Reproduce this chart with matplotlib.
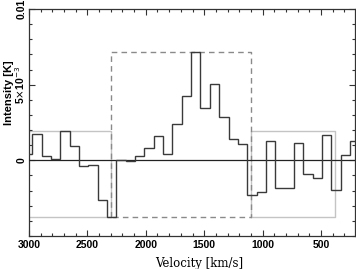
import numpy as np
import matplotlib
matplotlib.use("Agg")
import matplotlib.pyplot as plt
from matplotlib.ticker import MultipleLocator

# spectrum: bin edges (km/s, descending) and intensities (K)
edges = 3052 - 80 * np.arange(37)
intens = np.array([0.42, 1.73, 0.29, 0.07, 1.93, 0.95, -0.40, -0.31, -2.59, -3.72,
                   0.00, -0.06, 0.29, 0.80, 1.59, 0.40, 2.43, 4.25, 7.17, 3.45,
                   5.07, 2.86, 1.39, 1.06, -2.26, -2.06, 1.30, -1.86, -1.86, 1.13,
                   -0.93, -1.15, 1.66, -1.99, 0.33, 1.26]) * 1e-3

# baseline windows (grey) and line window (dashed)
base_left = [3060, 2300]
base_right = [1100, 380]
line_win = [2300, 1100]
box_lo = -3.72e-3
base_hi = 1.93e-3
line_hi = 7.17e-3

fig = plt.figure(figsize=(3.56, 2.69), dpi=100)
ax = fig.add_axes([29/356, 33/269, 326/356, 227/269])

for x0, x1 in (base_left, base_right):
    ax.plot([x0, x0, x1, x1, x0], [box_lo, base_hi, base_hi, box_lo, box_lo],
            color="#c4c4c4", lw=1.0, zorder=1)
x0, x1 = line_win
ax.plot([x0, x0, x1, x1, x0], [box_lo, line_hi, line_hi, box_lo, box_lo],
        color="#8a8a8a", lw=1.0, ls=(0, (4, 3)), zorder=2)

ax.axhline(0, color="#222222", lw=0.9, zorder=3)
ax.stairs(intens[::-1], edges[::-1], baseline=None, color="#3a3a3a", lw=1.0, zorder=4)

ax.set_xlim(3000, 209)
ax.set_ylim(-0.005, 0.01)

ax.xaxis.set_major_locator(MultipleLocator(500))
ax.xaxis.set_minor_locator(MultipleLocator(100))
ax.set_yticks([0, 0.005, 0.01])
ax.set_yticklabels(["0", r"5$\times$10$^{-3}$", "0.01"], rotation=90, va="center")
ax.yaxis.set_minor_locator(MultipleLocator(0.001))

ax.tick_params(which="both", direction="in", top=True, right=True, color="#333333")
ax.tick_params(which="major", length=4, width=0.8, pad=3)
ax.tick_params(axis="y", which="major", pad=1.5)
ax.tick_params(which="minor", length=2, width=0.8)
for lab in ax.get_xticklabels() + ax.get_yticklabels():
    lab.set_fontfamily("Liberation Sans")
    lab.set_fontweight("bold")
    lab.set_fontsize(7.5)

for s in ax.spines.values():
    s.set_color("#333333")
    s.set_linewidth(0.9)

ax.set_xlabel("Velocity [km/s]", family="DejaVu Serif", fontsize=8.5, va="center")
ax.xaxis.set_label_coords(0.521, -0.119)
ax.set_ylabel("Intensity [K]", family="Liberation Sans", fontweight="bold",
              fontsize=8, va="center")
ax.yaxis.set_label_coords(-0.062, 0.63)

fig.savefig("out.png", dpi=100)
